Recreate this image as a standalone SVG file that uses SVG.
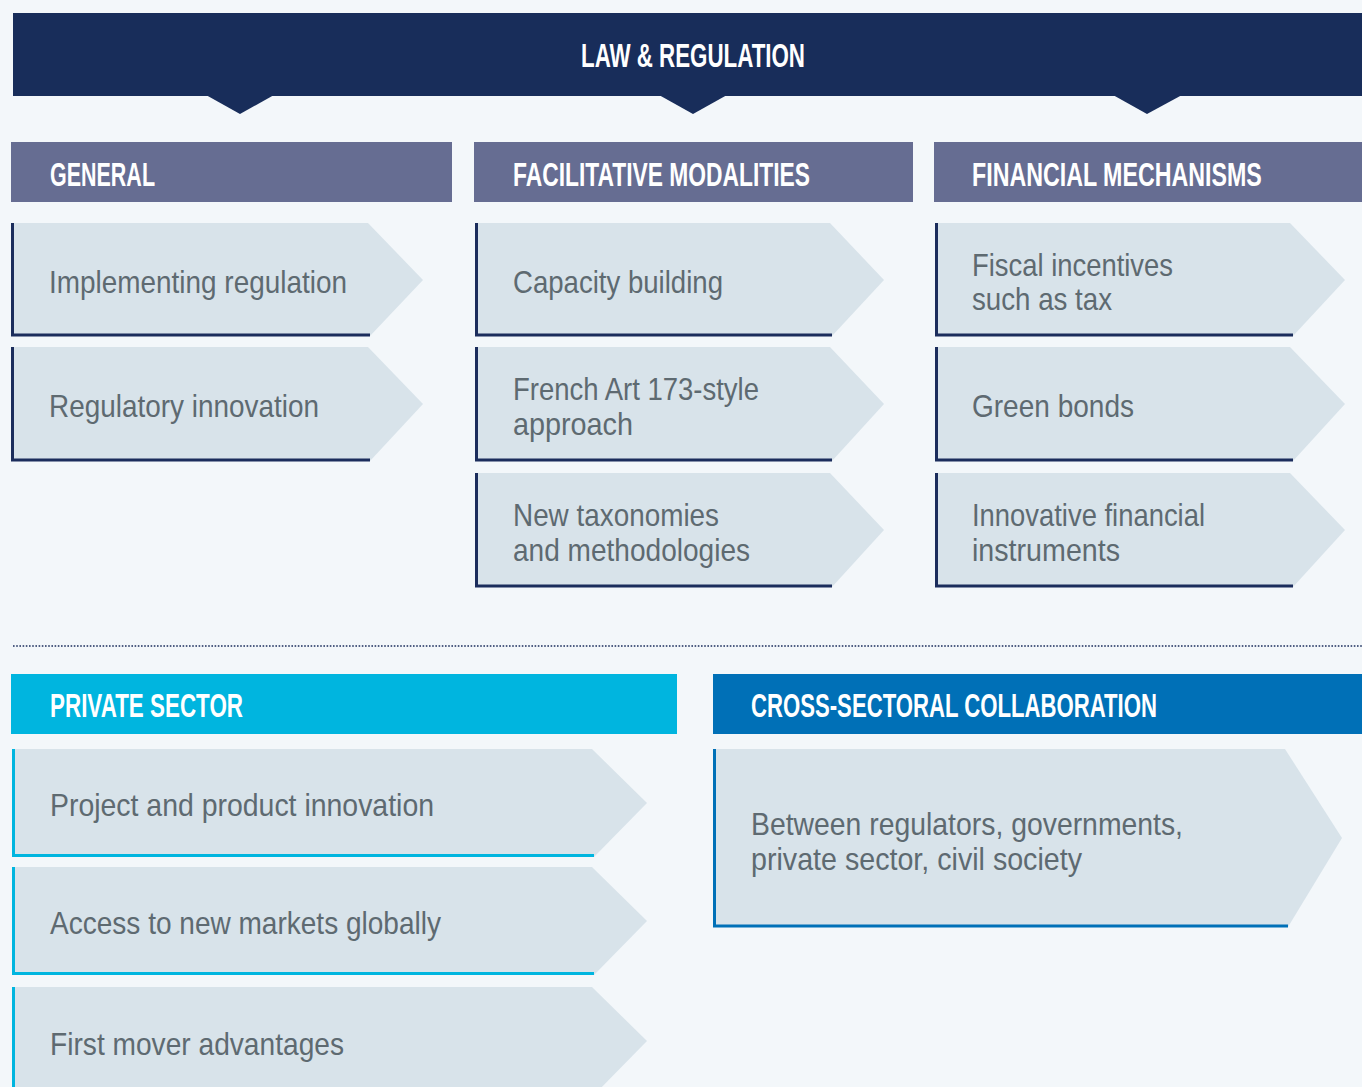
<svg xmlns="http://www.w3.org/2000/svg" width="1362" height="1087" viewBox="0 0 1362 1087">
<style>
.bg{fill:#f3f7fa}
.banner{fill:#182d5a}
.hdr{fill:#666d92}
.hdr-ps{fill:#00b5df}
.hdr-cs{fill:#0070b7}
.item{fill:#d8e3ea}
.bl-navy{stroke:#1b2d5c;stroke-width:3;fill:none}
.bl-cyan{stroke:#00b5df;stroke-width:3;fill:none}
.bl-blue{stroke:#0070b7;stroke-width:3;fill:none}
.ht{font-family:"Liberation Sans",Arial,sans-serif;font-weight:bold;font-size:33px;fill:#ffffff}
.it{font-family:"Liberation Sans",Arial,sans-serif;font-size:32px;fill:#5e6a71}
.dots{stroke:#1b2d5c;stroke-width:1.6;stroke-dasharray:1.6 1.6;fill:none}
</style>
<rect class="bg" x="0" y="0" width="1362" height="1087"/>

<g id="law-regulation">
<rect class="banner" x="13" y="13" width="1349" height="83"/>
<text class="ht" x="581" y="67" textLength="224" lengthAdjust="spacingAndGlyphs">LAW &amp; REGULATION</text>
</g>

<g id="connectors">
<polygon class="banner" points="206,95 274,95 240,114"/>
<polygon class="banner" points="659,95 727,95 693,114"/>
<polygon class="banner" points="1113,95 1182,95 1147,114"/>
</g>

<g id="general">
<rect class="hdr" x="11" y="142" width="441" height="60"/>
<text class="ht" x="50" y="186" textLength="105" lengthAdjust="spacingAndGlyphs">GENERAL</text>
</g>
<g id="facilitative-modalities">
<rect class="hdr" x="474" y="142" width="439" height="60"/>
<text class="ht" x="513" y="186" textLength="297" lengthAdjust="spacingAndGlyphs">FACILITATIVE MODALITIES</text>
</g>
<g id="financial-mechanisms">
<rect class="hdr" x="934" y="142" width="428" height="60"/>
<text class="ht" transform="translate(972,186) scale(0.704,1)" x="0" y="0">FINANCIAL MECHANISMS</text>
</g>

<g id="implementing-regulation">
<polygon class="item" points="12,223 368,223 423,280 370,336 12,336"/>
<polyline class="bl-navy" points="12.5,223 12.5,335 370,335"/>
<text class="it" x="49" y="293" textLength="298" lengthAdjust="spacingAndGlyphs">Implementing regulation</text>
</g>
<g id="regulatory-innovation">
<polygon class="item" points="12,347 368,347 423,404 370,461 12,461"/>
<polyline class="bl-navy" points="12.5,347 12.5,460 370,460"/>
<text class="it" x="49" y="417" textLength="270" lengthAdjust="spacingAndGlyphs">Regulatory innovation</text>
</g>

<g id="capacity-building">
<polygon class="item" points="475,223 830,223 884,280 832,336 475,336"/>
<polyline class="bl-navy" points="476.5,223 476.5,335 832,335"/>
<text class="it" x="513" y="293" textLength="210" lengthAdjust="spacingAndGlyphs">Capacity building</text>
</g>
<g id="french-art-173">
<polygon class="item" points="475,347 830,347 884,404 832,461 475,461"/>
<polyline class="bl-navy" points="476.5,347 476.5,460 832,460"/>
<text class="it" x="513" y="400" textLength="246" lengthAdjust="spacingAndGlyphs">French Art 173-style</text>
<text class="it" x="513" y="435" textLength="120" lengthAdjust="spacingAndGlyphs">approach</text>
</g>
<g id="new-taxonomies">
<polygon class="item" points="475,473 830,473 884,530 832,587 475,587"/>
<polyline class="bl-navy" points="476.5,473 476.5,586 832,586"/>
<text class="it" x="513" y="526" textLength="206" lengthAdjust="spacingAndGlyphs">New taxonomies</text>
<text class="it" x="513" y="561" textLength="237" lengthAdjust="spacingAndGlyphs">and methodologies</text>
</g>

<g id="fiscal-incentives">
<polygon class="item" points="935,223 1290,223 1345,280 1293,336 935,336"/>
<polyline class="bl-navy" points="936.5,223 936.5,335 1293,335"/>
<text class="it" x="972" y="276" textLength="201" lengthAdjust="spacingAndGlyphs">Fiscal incentives</text>
<text class="it" x="972" y="310" textLength="140" lengthAdjust="spacingAndGlyphs">such as tax</text>
</g>
<g id="green-bonds">
<polygon class="item" points="935,347 1290,347 1345,404 1293,461 935,461"/>
<polyline class="bl-navy" points="936.5,347 936.5,460 1293,460"/>
<text class="it" x="972" y="417" textLength="162" lengthAdjust="spacingAndGlyphs">Green bonds</text>
</g>
<g id="innovative-financial-instruments">
<polygon class="item" points="935,473 1290,473 1345,530 1293,587 935,587"/>
<polyline class="bl-navy" points="936.5,473 936.5,586 1293,586"/>
<text class="it" x="972" y="526" textLength="233" lengthAdjust="spacingAndGlyphs">Innovative financial</text>
<text class="it" x="972" y="561" textLength="148" lengthAdjust="spacingAndGlyphs">instruments</text>
</g>

<line class="dots" x1="13" y1="646" x2="1362" y2="646"/>

<g id="private-sector">
<rect class="hdr-ps" x="11" y="674" width="666" height="60"/>
<text class="ht" x="50" y="717" textLength="193" lengthAdjust="spacingAndGlyphs">PRIVATE SECTOR</text>
</g>
<g id="project-product-innovation">
<polygon class="item" points="12,749 592,749 647,803 594,857 12,857"/>
<polyline class="bl-cyan" points="13.5,749 13.5,855.5 594,855.5"/>
<text class="it" x="50" y="816" textLength="384" lengthAdjust="spacingAndGlyphs">Project and product innovation</text>
</g>
<g id="access-new-markets">
<polygon class="item" points="12,867 592,867 647,921 594,975 12,975"/>
<polyline class="bl-cyan" points="13.5,867 13.5,973.5 594,973.5"/>
<text class="it" x="50" y="934" textLength="391" lengthAdjust="spacingAndGlyphs">Access to new markets globally</text>
</g>
<g id="first-mover-advantages">
<polygon class="item" points="12,987 592,987 647,1041 594,1095 12,1095"/>
<polyline class="bl-cyan" points="13.5,987 13.5,1095"/>
<text class="it" x="50" y="1055" textLength="294" lengthAdjust="spacingAndGlyphs">First mover advantages</text>
</g>

<g id="cross-sectoral-collaboration">
<rect class="hdr-cs" x="713" y="674" width="649" height="60"/>
<text class="ht" x="751" y="717" textLength="406" lengthAdjust="spacingAndGlyphs">CROSS-SECTORAL COLLABORATION</text>
</g>
<g id="between-regulators">
<polygon class="item" points="714,749 1285,749 1342,838 1288,927 714,927"/>
<polyline class="bl-blue" points="714.5,749 714.5,926 1288,926"/>
<text class="it" x="751" y="835" textLength="432" lengthAdjust="spacingAndGlyphs">Between regulators, governments,</text>
<text class="it" x="751" y="870" textLength="331" lengthAdjust="spacingAndGlyphs">private sector, civil society</text>
</g>
</svg>
